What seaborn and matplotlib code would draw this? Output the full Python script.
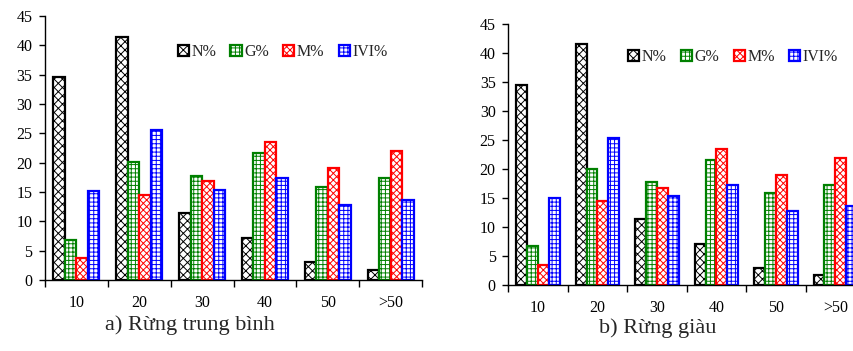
import matplotlib
matplotlib.use('Agg')
import matplotlib.pyplot as plt
import seaborn as sns
import pandas as pd
import numpy as np

classes = ['10', '20', '30', '40', '50', '>50']
series = ['N%', 'G%', 'M%', 'IVI%']

a_N = [34.6, 41.5, 11.5, 7.1, 3.0, 1.7]
a_G = [6.9, 20.1, 17.7, 21.6, 15.9, 17.4]
a_M = [3.7, 14.5, 16.8, 23.5, 19.1, 22.0]
a_IVI = [15.2, 25.5, 15.4, 17.4, 12.7, 13.7]

b_N = [34.5, 41.5, 11.3, 7.0, 3.0, 1.7]
b_G = [6.8, 20.0, 17.7, 21.5, 15.9, 17.3]
b_M = [3.5, 14.5, 16.8, 23.5, 19.0, 21.9]
b_IVI = [15.0, 25.3, 15.3, 17.3, 12.7, 13.7]

captions = ['a) Rừng trung bình', 'b) Rừng giàu']
yticks = [0, 5, 10, 15, 20, 25, 30, 35, 40, 45]

edge_colors = ['#000000', '#008000', '#FF0000', '#0000FF']
hatches = ['xxxx', '++++', 'xxxxx', '++++']

sns.set_style('ticks')
plt.rcParams['font.family'] = ['Liberation Serif', 'DejaVu Serif']
plt.rcParams['hatch.linewidth'] = 0.7


def make_df(N, G, M, IVI):
    rows = []
    for name, vals in zip(series, [N, G, M, IVI]):
        for c, v in zip(classes, vals):
            rows.append({'cls': c, 'series': name, 'val': v})
    return pd.DataFrame(rows)


dfs = [make_df(a_N, a_G, a_M, a_IVI), make_df(b_N, b_G, b_M, b_IVI)]

fig = plt.figure(figsize=(8.54, 3.51), dpi=100)
positions = [[0.0527, 0.2023, 0.4415, 0.752], [0.595, 0.188, 0.418, 0.7436]]
legend_anchor = [(0.63, 0.864), (0.63, 0.874)]
caption_pos = [(0.222, 0.073), (0.77, 0.066)]

for i in range(2):
    ax = fig.add_axes(positions[i])
    sns.barplot(data=dfs[i], x='cls', y='val', hue='series', order=classes,
                hue_order=series, width=0.73, ax=ax, legend=False,
                palette=['white'] * 4, saturation=1)
    for cont, ec, h in zip(ax.containers, edge_colors, hatches):
        for p in cont.patches:
            p.set_facecolor('white')
            p.set_edgecolor(ec)
            p.set_hatch(h)
            p.set_linewidth(1.6)
    ax.set_xlim(-0.5, 5.5)
    ax.set_ylim(0, 45)
    ax.set_yticks(yticks)
    ax.set_xlabel('')
    ax.set_ylabel('')
    ax.set_xticks(np.arange(len(classes)))
    ax.set_xticklabels(classes)
    ax.set_xticks(np.arange(-0.5, len(classes), 1.0), minor=True)
    ax.tick_params(axis='x', which='major', length=0, pad=11, labelsize=11.5, colors='black')
    ax.tick_params(axis='x', which='minor', length=5, width=1, direction='out', color='black')
    ax.tick_params(axis='y', length=4, width=1, direction='out', pad=5, labelsize=11.5, colors='black')
    for s in ['top', 'right']:
        ax.spines[s].set_visible(False)
    for s in ['left', 'bottom']:
        ax.spines[s].set_color('black')
        ax.spines[s].set_linewidth(1)
    ax.legend([c for c in ax.containers], series, loc='center',
              bbox_to_anchor=legend_anchor[i], ncol=4, frameon=False,
              handlelength=0.7, handleheight=0.7, handletextpad=0.15,
              columnspacing=0.9, fontsize=11.5, borderaxespad=0)
    fig.text(caption_pos[i][0], caption_pos[i][1], captions[i], ha='center',
             va='center', fontsize=16)

fig.savefig('out.png', dpi=100)
